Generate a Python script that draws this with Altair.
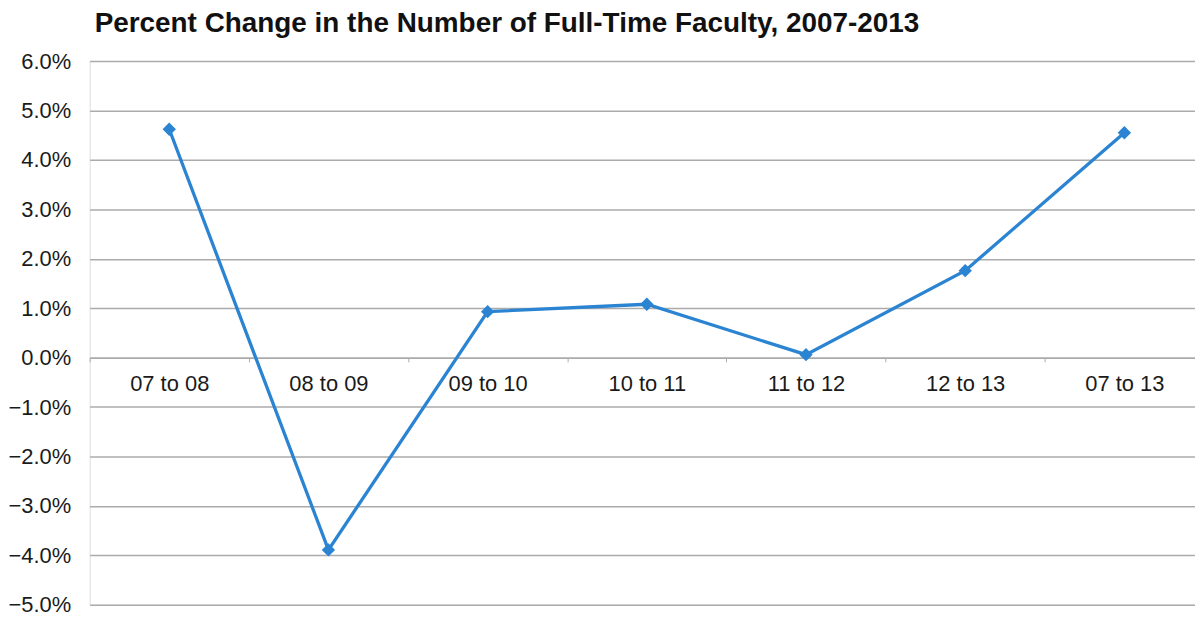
import altair as alt
import pandas as pd

categories = ["07 to 08", "08 to 09", "09 to 10", "10 to 11", "11 to 12", "12 to 13", "07 to 13"]
pct_change = [0.0462, -0.0389, 0.0093, 0.0108, 0.0006, 0.0176, 0.0455]
y_ticks = [-0.05, -0.04, -0.03, -0.02, -0.01, 0.0, 0.01, 0.02, 0.03, 0.04, 0.05, 0.06]

df = pd.DataFrame({"period": categories, "change": pct_change})

FONT = "Liberation Sans"
GRID = "#ababab"
LINE = "#2a84d2"

base = alt.Chart(df)

xscale = alt.Scale(paddingInner=0, paddingOuter=0, range=[0, 1119])

line = base.mark_line(color=LINE, strokeWidth=3.3).encode(
    x=alt.X("period:N", sort=categories, title=None, scale=xscale,
            axis=alt.Axis(orient="bottom", offset=-248, labelAngle=0,
                          labelFont=FONT, labelFontSize=22, labelColor="#1a1a1a",
                          labelPadding=12, domainColor=GRID, domainWidth=1.5,
                          tickColor=GRID, tickSize=4, tickBand="extent",
                          grid=False)),
    y=alt.Y("change:Q", title=None,
            scale=alt.Scale(domain=[-0.05, 0.06], nice=False, zero=False),
            axis=alt.Axis(values=y_ticks, format=".1%", labelFont=FONT,
                          labelFontSize=22, labelColor="#1a1a1a", labelPadding=19,
                          domain=False, ticks=False, gridColor=GRID, gridWidth=1.5,
                          gridOpacity=1)),
)

points = base.mark_point(shape="diamond", filled=True, color=LINE, size=180, opacity=1).encode(
    x=alt.X("period:N", sort=categories, scale=xscale),
    y=alt.Y("change:Q"),
)

chart = alt.layer(line, points).properties(
    width=1110,
    height=546,
    title=alt.TitleParams(
        "Percent Change in the Number of Full-Time Faculty, 2007-2013",
        anchor="start", frame="group", dx=5, offset=12,
        font=FONT, fontSize=28, fontWeight="bold", color="#111111",
    ),
    autosize=alt.AutoSizeParams(type="none"),
    padding={"left": 82, "top": 52, "right": 0, "bottom": 10},
).configure_view(stroke=None).configure(background="white")

chart.save("out.html", embed_options={"renderer": "svg", "actions": False})
